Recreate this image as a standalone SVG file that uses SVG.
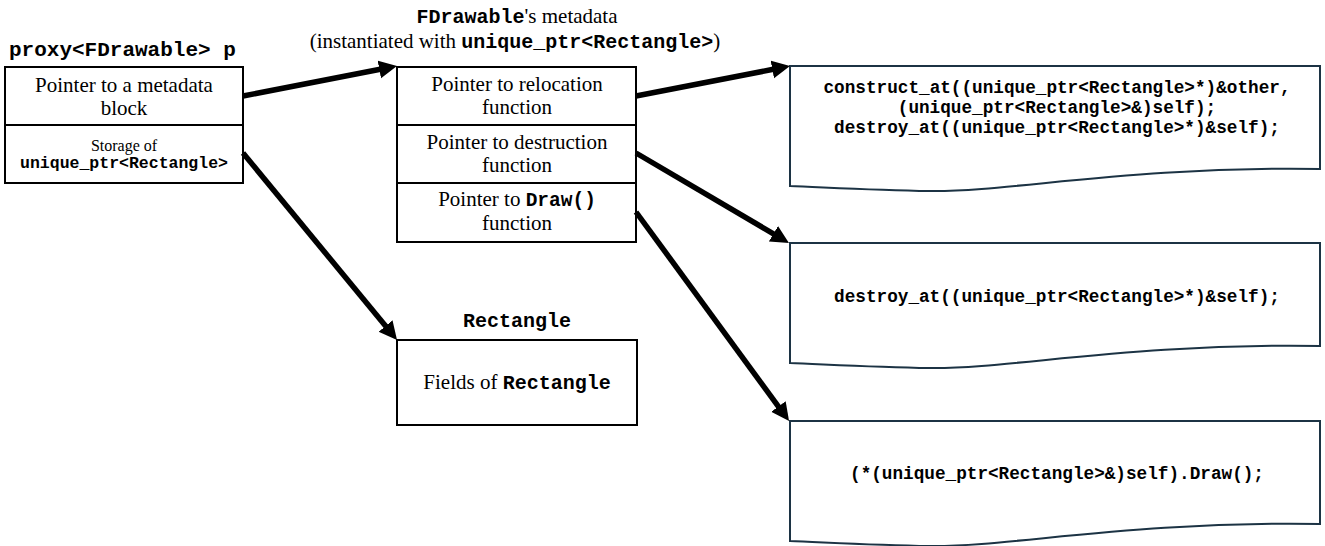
<svg xmlns="http://www.w3.org/2000/svg" width="1325" height="546" viewBox="0 0 1325 546">
  <style>
    .serif { font-family: "Liberation Serif", "Times New Roman", serif; fill: #000; }
    .mono { font-family: "Liberation Mono", "Courier New", monospace; font-weight: bold; fill: #000; }
    .box { fill: #fff; stroke: #000; stroke-width: 2; }
    .doc { fill: #fff; stroke: #1c3344; stroke-width: 2; }
    .arrow { fill: none; stroke: #000; stroke-width: 5.5; marker-end: url(#head); }
    .c { text-anchor: middle; }
  </style>
  <defs>
    <marker id="head" markerUnits="userSpaceOnUse" markerWidth="21" markerHeight="19" refX="1" refY="9" orient="auto">
      <path d="M0,0 L18,9 L0,18 z" fill="#000"/>
    </marker>
  </defs>

  <rect width="1325" height="546" fill="#fff"/>

  <!-- proxy object -->
  <g id="proxy">
    <text class="mono" x="9" y="56" font-size="21">proxy&lt;FDrawable&gt; p</text>
    <rect class="box" x="5" y="67" width="238" height="58"/>
    <rect class="box" x="5" y="125" width="238" height="58"/>
    <text class="serif c" x="124" y="92" font-size="21">Pointer to a metadata</text>
    <text class="serif c" x="124" y="115" font-size="21">block</text>
    <text class="serif c" x="124" y="151" font-size="16">Storage of</text>
    <text class="mono c" x="124" y="168" font-size="16.5">unique_ptr&lt;Rectangle&gt;</text>
  </g>

  <!-- metadata table -->
  <g id="metadata">
    <text class="c" x="517" y="23"><tspan class="mono" font-size="20">FDrawable</tspan><tspan class="serif" font-size="21">'s metadata</tspan></text>
    <text class="c" x="515" y="48"><tspan class="serif" font-size="21">(instantiated with </tspan><tspan class="mono" font-size="20">unique_ptr&lt;Rectangle&gt;</tspan><tspan class="serif" font-size="21">)</tspan></text>
    <rect class="box" x="397" y="67" width="239" height="58"/>
    <rect class="box" x="397" y="125" width="239" height="58"/>
    <rect class="box" x="397" y="183" width="239" height="59"/>
    <text class="serif c" x="517" y="91" font-size="21">Pointer to relocation</text>
    <text class="serif c" x="517" y="114" font-size="21">function</text>
    <text class="serif c" x="517" y="149" font-size="21">Pointer to destruction</text>
    <text class="serif c" x="517" y="172" font-size="21">function</text>
    <text class="c" x="517" y="206"><tspan class="serif" font-size="21">Pointer to </tspan><tspan class="mono" font-size="19.5">Draw()</tspan></text>
    <text class="serif c" x="517" y="230" font-size="21">function</text>
  </g>

  <!-- pointee object -->
  <g id="rectangle">
    <text class="mono c" x="517" y="327" font-size="20">Rectangle</text>
    <rect class="box" x="397" y="340" width="240" height="85"/>
    <text class="c" x="517" y="389"><tspan class="serif" font-size="21">Fields of </tspan><tspan class="mono" font-size="20">Rectangle</tspan></text>
  </g>

  <!-- function bodies -->
  <g id="relocate-fn">
    <path class="doc" d="M790,66 H1320 V169 C1130,166 1010,192 930,191 C870,190 820,187 790,186 Z"/>
    <text class="mono c" x="1057" y="93" font-size="17.7">construct_at((unique_ptr&lt;Rectangle&gt;*)&amp;other,</text>
    <text class="mono c" x="1057" y="113" font-size="17.7">(unique_ptr&lt;Rectangle&gt;&amp;)self);</text>
    <text class="mono c" x="1057" y="133" font-size="17.7">destroy_at((unique_ptr&lt;Rectangle&gt;*)&amp;self);</text>
  </g>
  <g id="destroy-fn">
    <path class="doc" d="M790,243 H1320 V346 C1130,343 1010,369 930,368 C870,367 820,364 790,363 Z"/>
    <text class="mono c" x="1057" y="302" font-size="17.7">destroy_at((unique_ptr&lt;Rectangle&gt;*)&amp;self);</text>
  </g>
  <g id="draw-fn">
    <path class="doc" d="M790,421 H1320 V524 C1130,521 1010,547 930,546 C870,545 820,542 790,541 Z"/>
    <text class="mono c" x="1057" y="479" font-size="17.7">(*(unique_ptr&lt;Rectangle&gt;&amp;)self).Draw();</text>
  </g>

  <!-- connectors -->
  <g id="connectors">
    <line class="arrow" x1="243" y1="96" x2="380.3" y2="69.3"/>
    <line class="arrow" x1="636" y1="96" x2="773.3" y2="69.3"/>
    <line class="arrow" x1="636" y1="153" x2="774.3" y2="234.3"/>
    <line class="arrow" x1="636" y1="212" x2="779" y2="407.3"/>
    <line class="arrow" x1="243" y1="153" x2="386.2" y2="326.8"/>
  </g>
</svg>
